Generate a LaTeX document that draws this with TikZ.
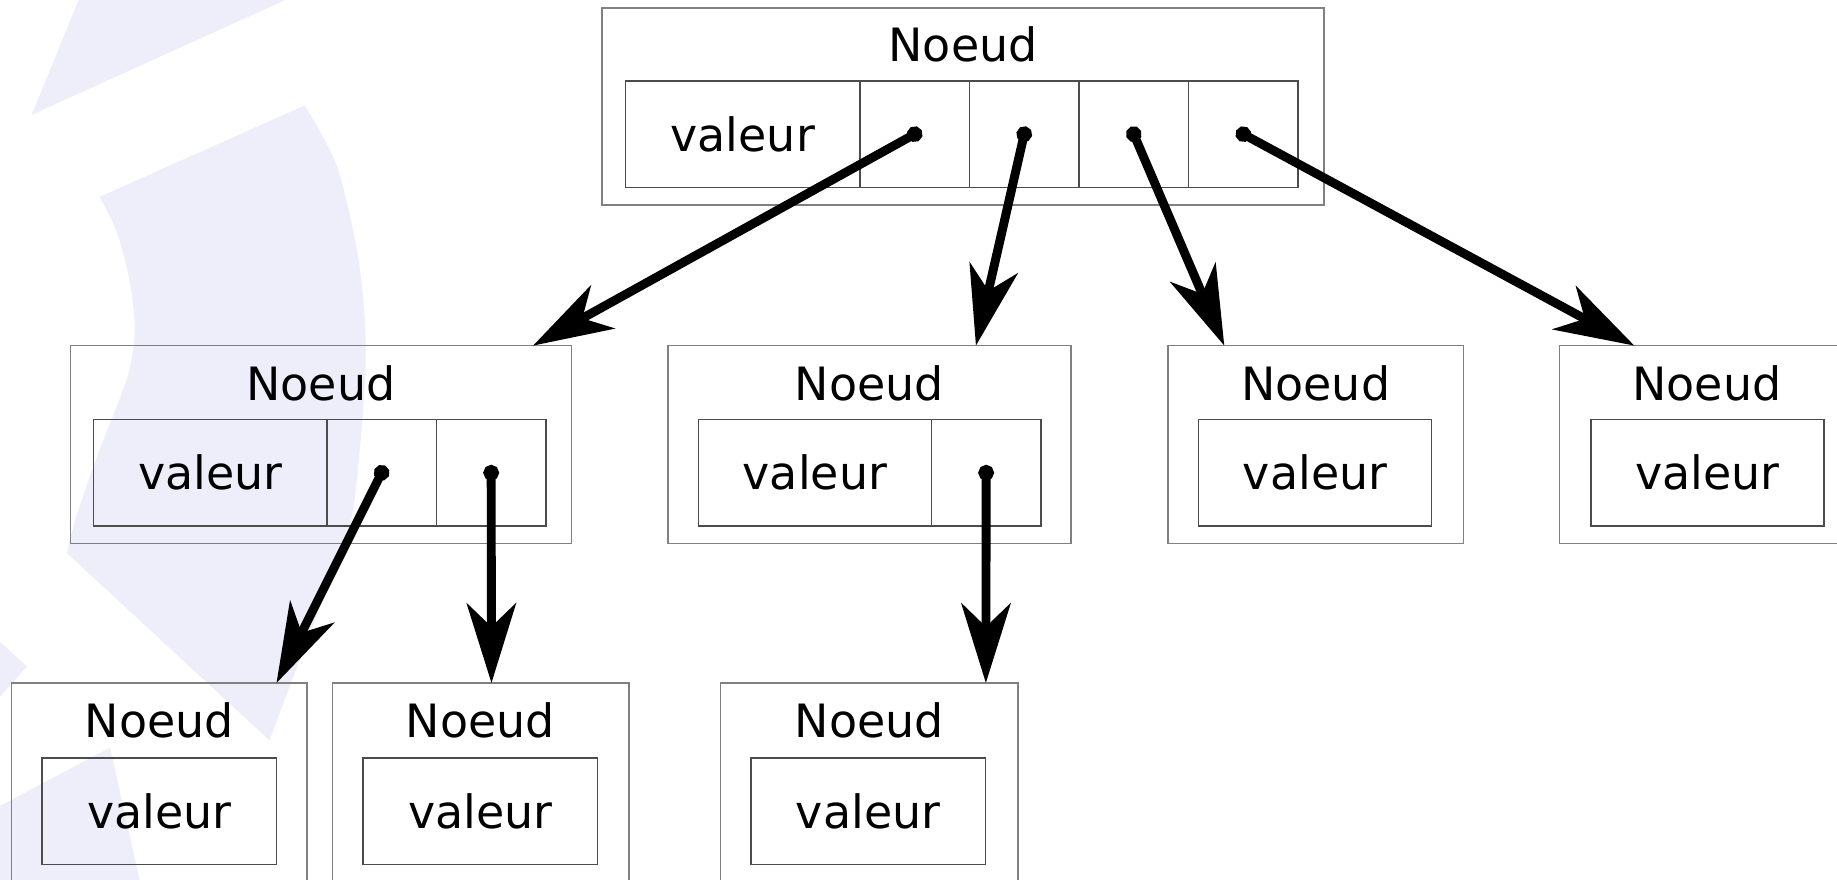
\documentclass[tikz,border=0pt]{standalone}
\usepackage{fontspec}
\setmainfont{DejaVu Sans}
\usepackage{tikz}
\usetikzlibrary{arrows.meta}
\usetikzlibrary{positioning}

\definecolor{filigrane}{RGB}{238,238,250}
\tikzset{
	noeud/.style={draw=black!50, line width=0.65pt, anchor=north west, inner sep=0pt, outer sep=0pt, minimum height=84.5pt, minimum width=126pt},
	titre/.style={inner sep=0pt, font=\fontsize{19.6}{23}\selectfont},
	cellule/.style={draw=black!70, line width=0.6pt, anchor=north west, inner sep=0pt, outer sep=0pt, minimum height=45.5pt, minimum width=46.75pt, font=\fontsize{19.6}{23}\selectfont},
	val/.style={cellule, minimum width=100pt},
	ptr/.style={line width=3.8pt, {Circle[length=6.6pt]}-{Stealth[length=34pt,width=21pt,inset=10pt]}, shorten <=-3.3pt},
}

\begin{document}
\begin{tikzpicture}[x=0.5pt, y=-0.5pt]
		\useasboundingbox (0,0) rectangle (1568,751);
		
		% filigrane
		\fill[filigrane] (68,-2) -- (27,98) -- (248,-2) -- cycle;
		\fill[filigrane] (85,168) -- plot[smooth] coordinates {(260,90) (288,143) (307,228) (312,313) (301,438) (282,495) (256,563) (230,632)}
			-- plot[smooth] coordinates {(57,472) (66,438) (85,384) (108,324) (115,284) (111,242) (100,199) (85,168)} -- cycle;
		\fill[filigrane] (-2,546) -- (23,569) -- (-2,597) -- cycle;
		\fill[filigrane] (-2,689) -- (94,638) -- (120,755) -- (-2,755) -- cycle;
		
		% racine
		\node[noeud, minimum width=308pt, minimum height=84pt] (T) at (514,7) {};
		\node[titre] (tT) at (822,38) {Noeud};
		\node[val] (tv) at (534,69) {valeur};
		\node[cellule, right=0pt of tv] (t1) {};
		\node[cellule, right=0pt of t1] (t2) {};
		\node[cellule, right=0pt of t2] (t3) {};
		\node[cellule, right=0pt of t3] (t4) {};
		
		% niveau 1
		\node[noeud, minimum width=214pt] (A) at (60,295) {};
		\node[titre] (tA) at (274,327) {Noeud};
		\node[val, minimum width=99.5pt] (av) at (80,358) {valeur};
		\node[cellule, right=0pt of av] (a1) {};
		\node[cellule, right=0pt of a1] (a2) {};
		
		\node[noeud, minimum width=172pt] (B) at (570,295) {};
		\node[titre] (tB) at (742,327) {Noeud};
		\node[val, minimum width=99.5pt] (bv) at (596,358) {valeur};
		\node[cellule, right=0pt of bv] (b1) {};
		
		\node[noeud] (C) at (997,295) {};
		\node[titre] (tC) at (1123,327) {Noeud};
		\node[val, minimum width=99.5pt] (cv) at (1023,358) {valeur};
		
		\node[noeud] (D) at (1331,295) {};
		\node[titre] (tD) at (1457,327) {Noeud};
		\node[val, minimum width=99.5pt] (dv) at (1358,358) {valeur};
		
		% niveau 2
		\node[noeud] (E) at (10,583) {};
		\node[titre] (tE) at (136,615) {Noeud};
		\node[val] (ev) at (36,647) {valeur};
		
		\node[noeud, minimum width=126.5pt] (F) at (284,583) {};
		\node[titre] (tF) at (410,615) {Noeud};
		\node[val] (fv) at (310,647) {valeur};
		
		\node[noeud, minimum width=127pt] (G) at (615,583) {};
		\node[titre] (tG) at (742,615) {Noeud};
		\node[val] (gv) at (641,647) {valeur};
		
		\draw[ptr] (t1.center) -- ([xshift=90.5pt]A.north);
		\draw[ptr] (t2.center) -- ([xshift=45.5pt]B.north);
		\draw[ptr] (t3.center) -- ([xshift=-39pt]C.north);
		\draw[ptr] (t4.center) -- ([xshift=-31pt]D.north);
		\draw[ptr] (a1.center) -- ([xshift=50pt]E.north);
		\draw[ptr] (a2.center) -- ([xshift=4.5pt]F.north);
		\draw[ptr] (b1.center) -- ([xshift=49.75pt]G.north);
\end{tikzpicture}
\end{document}
